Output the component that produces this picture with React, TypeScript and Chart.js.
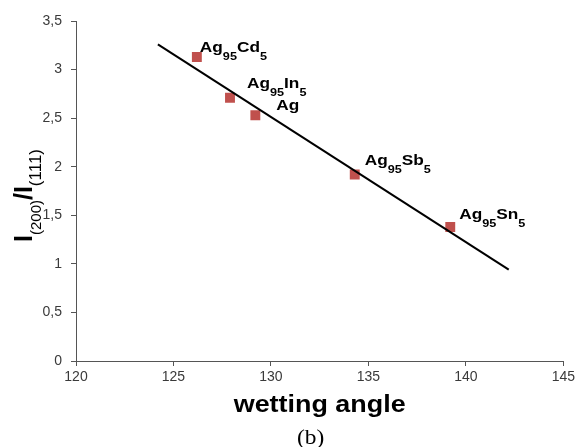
import React, { useEffect, useRef } from "react";
import { Chart, registerables } from "chart.js";

Chart.register(...registerables);

// ---- data ----
const alloyLabels = ["Ag95Cd5", "Ag95In5", "Ag", "Ag95Sb5", "Ag95Sn5"];
const wettingAngle = [126.2, 127.9, 129.2, 134.3, 139.2];
const intensityRatio = [3.13, 2.71, 2.53, 1.92, 1.38];
const fitLineX = [124.2, 142.2];
const fitLineY = [3.26, 0.94];
const xTickMin = 120;
const xTickMax = 145;
const xTickStep = 5;
const yTickMin = 0;
const yTickMax = 3.5;
const yTickStep = 0.5;
const xTitle = "wetting angle";
const caption = "(b)";

// label offsets (px) relative to each marker
const labelOffsets = [
  [3, -5],
  [17, -10],
  [21, -5],
  [10, -9],
  [9, -8],
];

const SANS = '"Liberation Sans", Arial, sans-serif';
const SERIF = '"Liberation Serif", "Times New Roman", serif';
const STRETCH = 1.15;

function drawRich(
  ctx: CanvasRenderingContext2D,
  x: number,
  y: number,
  text: string,
  mainFont: string,
  subFont: string,
  subDy: number,
  sx: number
) {
  const parts = text.match(/[A-Za-z]+|\d+/g) || [];
  ctx.save();
  ctx.translate(x, y);
  ctx.scale(sx, 1);
  ctx.textAlign = "left";
  ctx.textBaseline = "alphabetic";
  let cx = 0;
  for (const p of parts) {
    const sub = /^\d+$/.test(p);
    ctx.font = sub ? subFont : mainFont;
    ctx.fillText(p, cx, sub ? subDy : 0);
    cx += ctx.measureText(p).width;
  }
  ctx.restore();
}

const textPlugin = {
  id: "customText",
  afterDraw(chart: any) {
    const ctx: CanvasRenderingContext2D = chart.ctx;
    ctx.save();
    ctx.fillStyle = "#000";
    // point labels
    const meta = chart.getDatasetMeta(0);
    meta.data.forEach((pt: any, i: number) => {
      const [dx, dy] = labelOffsets[i];
      drawRich(
        ctx,
        pt.x + dx,
        pt.y + dy,
        alloyLabels[i],
        `bold 15px ${SANS}`,
        `bold 11px ${SANS}`,
        8,
        STRETCH
      );
    });

    // x axis title
    const area = chart.chartArea;
    const cxm = (area.left + area.right) / 2;
    ctx.save();
    ctx.translate(cxm, 412);
    ctx.scale(1.17, 1);
    ctx.font = `bold 23px ${SANS}`;
    ctx.textAlign = "center";
    ctx.textBaseline = "alphabetic";
    ctx.fillText(xTitle, 0, 0);
    ctx.restore();

    // caption
    ctx.save();
    ctx.translate(cxm - 9, 444);
    ctx.scale(1.17, 1);
    ctx.font = `20px ${SERIF}`;
    ctx.textAlign = "center";
    ctx.fillText(caption, 0, 0);
    ctx.restore();

    // y axis title: I(200)/I(111), rotated
    ctx.save();
    ctx.translate(32, 242);
    ctx.rotate(-Math.PI / 2);
    ctx.textAlign = "left";
    ctx.textBaseline = "alphabetic";
    let u = 0;
    const seg = (t: string, font: string, dv: number, gap = 0) => {
      ctx.font = font;
      ctx.fillText(t, u, dv);
      u += ctx.measureText(t).width + gap;
    };
    seg("I", `bold 25px ${SANS}`, 0, 0);
    seg("(200)", `15px ${SANS}`, 9, 0);
    seg("/", `bold 25px ${SANS}`, 0, 0);
    seg("I", `bold 25px ${SANS}`, 0, 0);
    seg("(111)", `17px ${SANS}`, 9, 0);
    ctx.restore();

    ctx.restore();
  },
};

export default function App() {
  const ref = useRef<HTMLCanvasElement | null>(null);

  useEffect(() => {
    if (!ref.current) return;
    const points = wettingAngle.map((x, i) => ({ x, y: intensityRatio[i] }));
    const line = fitLineX.map((x, i) => ({ x, y: fitLineY[i] }));
    const fmt = (v: any) => String(v).replace(".", ",");
    const chart = new Chart(ref.current, {
      type: "scatter",
      data: {
        datasets: [
          {
            label: "points",
            data: points,
            pointStyle: "rect",
            pointRadius: 7,
            pointHoverRadius: 7,
            backgroundColor: "#c0504d",
            borderColor: "#c0504d",
            borderWidth: 0,
            order: 2,
          },
          {
            label: "fit",
            data: line,
            type: "line",
            showLine: true,
            borderColor: "#000",
            borderWidth: 2,
            pointRadius: 0,
            fill: false,
            order: 1,
          } as any,
        ],
      },
      options: {
        animation: false,
        responsive: false,
        events: [],
        layout: { padding: { left: 0, right: 12, top: 21, bottom: 0 } },
        plugins: {
          legend: { display: false },
          tooltip: { enabled: false },
          title: { display: false },
        },
        scales: {
          x: {
            type: "linear",
            min: xTickMin,
            max: xTickMax,
            afterFit: (s: any) => {
              s.height = 86;
            },
            ticks: {
              stepSize: xTickStep,
              color: "#3a3a3a",
              font: { family: SANS, size: 14 },
              padding: 3,
              callback: fmt,
            },
            grid: {
              display: true,
              drawOnChartArea: false,
              drawTicks: true,
              tickLength: 5,
              color: "#555",
            },
            border: { display: true, color: "#555", width: 1 },
          },
          y: {
            type: "linear",
            min: yTickMin,
            max: yTickMax,
            afterFit: (s: any) => {
              s.width = 76;
            },
            ticks: {
              stepSize: yTickStep,
              color: "#3a3a3a",
              font: { family: SANS, size: 14 },
              padding: 9,
              callback: fmt,
            },
            grid: {
              display: true,
              drawOnChartArea: false,
              drawTicks: true,
              tickLength: 5,
              color: "#555",
            },
            border: { display: true, color: "#555", width: 1 },
          },
        },
      },
      plugins: [textPlugin],
    });
    return () => chart.destroy();
  }, []);

  return (
    <div style={{ position: "fixed", left: 0, top: 0, width: 578, height: 447, background: "#fff" }}>
      <canvas ref={ref} width={578} height={447} style={{ display: "block" }} />
    </div>
  );
}
